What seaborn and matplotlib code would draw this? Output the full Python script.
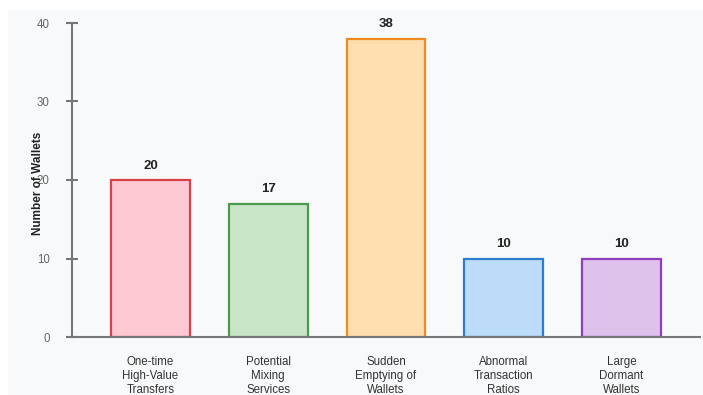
import matplotlib
matplotlib.use("Agg")
import matplotlib.pyplot as plt
from matplotlib.patches import Rectangle
import seaborn as sns
import pandas as pd

categories = ["One-time\nHigh-Value\nTransfers", "Potential\nMixing\nServices",
              "Sudden\nEmptying of\nWallets", "Abnormal\nTransaction\nRatios",
              "Large\nDormant\nWallets"]
values = [20, 17, 38, 10, 10]
fill_colors = ["#ffc9d3", "#c9e6c9", "#ffdeb0", "#bcdcfa", "#dec2ec"]
edge_colors = ["#d9404a", "#4c9a4c", "#f28a22", "#2d7dd2", "#8e3ec0"]
y_ticks = [0, 10, 20, 30, 40]

sns.set_theme(style="white")
plt.rcParams["font.family"] = ["Liberation Sans", "DejaVu Sans"]

W, H = 703, 395
fig = plt.figure(figsize=(W / 100, H / 100), dpi=100, facecolor="white")
bg = Rectangle((8 / W, 0), 1 - 8 / W, 1 - 10 / H,
               transform=fig.transFigure, facecolor="#f8f9fa",
               edgecolor="none", zorder=-10)
fig.add_artist(bg)
ax = fig.add_axes([72 / W, (H - 337) / H, (700 - 72) / W, (337 - 23) / H])
ax.set_zorder(1)
ax.set_facecolor("none")

df = pd.DataFrame({"cat": categories, "val": values})
sns.barplot(data=df, x="cat", y="val", hue="cat", palette=fill_colors,
            legend=False, width=0.67, ax=ax, saturation=1)
for p, ec in zip(ax.patches, edge_colors):
    p.set_edgecolor(ec)
    p.set_linewidth(1.6)

for i, v in enumerate(values):
    ax.annotate(str(v), (i, v), xytext=(0, 6), textcoords="offset points",
                ha="center", va="bottom", fontsize=9.5, fontweight="bold",
                color="#222222")

ax.set_xlim(-0.667, 4.667)
ax.set_ylim(0, 40)
ax.set_yticks(y_ticks)
ax.set_yticklabels([str(t) for t in y_ticks], color="#666666", fontsize=8.3)
ax.tick_params(axis="y", left=True, direction="inout", length=8, width=1.5,
               color="#777777", pad=12)
ax.tick_params(axis="x", bottom=False, length=0, pad=14, labelsize=8.3,
               labelcolor="#333333")
for lab in ax.get_xticklabels():
    lab.set_linespacing(1.22)

for s in ["top", "right"]:
    ax.spines[s].set_visible(False)
for s in ["left", "bottom"]:
    ax.spines[s].set_color("#777777")
    ax.spines[s].set_linewidth(1.5)

ax.set_xlabel("")
ax.set_ylabel("Number of Wallets", fontsize=8.5, fontweight="bold", color="#222222")
ax.yaxis.set_label_coords(-0.045, 0.49)

fig.savefig("out.png", dpi=100, facecolor="white")
